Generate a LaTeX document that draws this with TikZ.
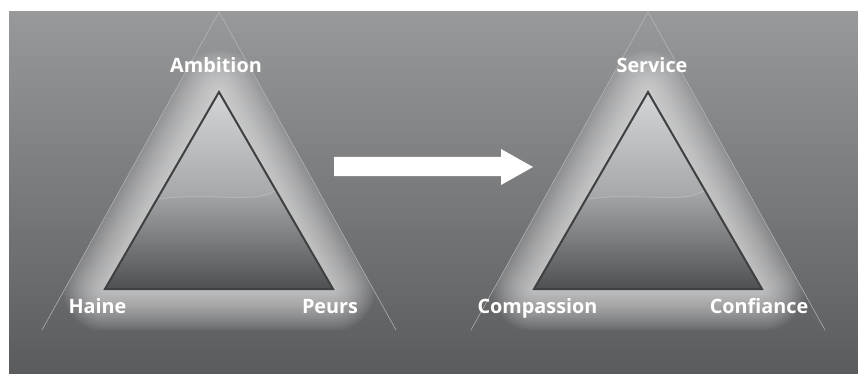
\documentclass[tikz,border=0pt]{standalone}
\usepackage{fontspec}
\setmainfont{Open Sans}
\definecolor{bgtop}{HTML}{98999B}
\definecolor{bgbot}{HTML}{5A5B5D}
\definecolor{intop}{HTML}{D6D7D9}
\definecolor{inmid}{HTML}{A4A5A7}
\definecolor{lowtop}{HTML}{ABACAE}
\definecolor{lowmid}{HTML}{7D7E80}
\definecolor{lowbot}{HTML}{4E4F51}
\definecolor{edge}{HTML}{3F4042}
\definecolor{thin}{HTML}{B8B9BB}
\begin{document}
\begin{tikzpicture}[x=1pt,y=-1pt,
  lab/.style={text=white,font=\bfseries\fontsize{19.8}{20}\selectfont,anchor=base,inner sep=0pt},
  outerline/.style={draw=thin,line width=0.5pt},
  inneredge/.style={draw=edge,line width=2pt,line join=miter},
  glowline/.style={draw=white,opacity=0.045,line join=round}]
\useasboundingbox (0,0) rectangle (858,374);
\fill[white] (0,0) rectangle (858,374);
\shade[top color=bgtop,bottom color=bgbot] (9,12) rectangle (858,374);

\foreach \sx in {0,429}{
\begin{scope}[xshift=\sx]
  % glow
  \begin{scope}
    \clip (42,330) -- (219,12) -- (396,330) -- cycle;
    \foreach \w in {84,80,...,4}
      \draw[glowline,line width=\w pt] (105,289) -- (219,92) -- (333,289) -- cycle;
  \end{scope}
  % inner fill
  \begin{scope}
    \clip (105,289) -- (219,92) -- (333,289) -- cycle;
    \shade[top color=lowtop,middle color=lowmid,bottom color=lowbot] (100,186) rectangle (340,290);
    \shade[top color=intop,bottom color=inmid]
      (100,88) -- (340,88) -- (340,180) -- (285,186)
      .. controls (275,190) and (268,196) .. (255,197)
      .. controls (230,199) and (190,194) .. (160,199) -- (100,202) -- cycle;
    \draw[white,opacity=0.2,line width=0.8pt] (285,186)
      .. controls (275,190) and (268,196) .. (255,197)
      .. controls (230,199) and (190,194) .. (160,199) -- (100,202);
  \end{scope}
  \draw[inneredge] (105,289) -- (219,92) -- (333,289) -- cycle;
  \draw[outerline] (42,330) -- (219,12) -- (396,330);
\end{scope}
}

\fill[white] (334,157) -- (501,157) -- (501,149) -- (533,167) -- (501,185) -- (501,176) -- (334,176) -- cycle;

\node[lab] (ambition) at (216,72.5) {Ambition};
\node[lab] (haine) at (97.5,313.5) {Haine};
\node[lab] (peurs) at (330,313.5) {Peurs};
\node[lab] (service) at (652,72.5) {Service};
\node[lab] (compassion) at (537.5,313.5) {Compassion};
\node[lab] (confiance) at (759,313.5) {Confiance};
\end{tikzpicture}
\end{document}
